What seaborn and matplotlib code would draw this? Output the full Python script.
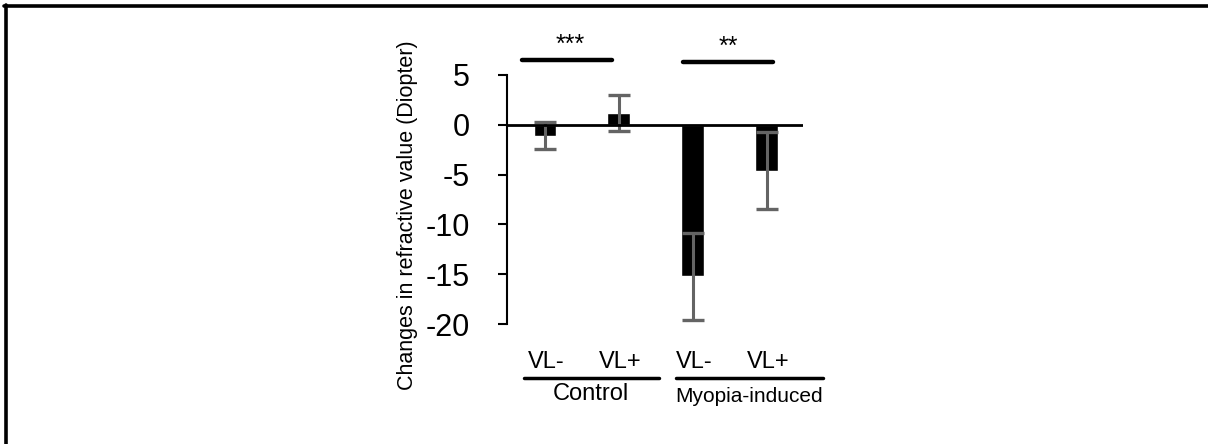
import matplotlib
matplotlib.use("Agg")
import matplotlib.pyplot as plt
import matplotlib.lines as mlines
import seaborn as sns
import pandas as pd
import numpy as np

groups = ["Control", "Control", "Myopia-induced", "Myopia-induced"]
conditions = ["VL-", "VL+", "VL-", "VL+"]
means = [-1.1, 1.2, -15.2, -4.6]
errors = [1.35, 1.8, 4.35, 3.85]
yticks = [5, 0, -5, -10, -15, -20]
sig_labels = ["***", "**"]
ylabel = "Changes in refractive value (Diopter)"

sns.set_theme(style="white")
plt.rcParams['font.family'] = ['Liberation Sans', 'DejaVu Sans']
plt.rcParams['text.color'] = 'black'
plt.rcParams['ytick.color'] = 'black'

W, H = 1208, 444
fig = plt.figure(figsize=(W / 100, H / 100), dpi=100)

# axes placement (pixels)
x0, x1 = 507, 803
ytop, ybot = 75, 324
ax = fig.add_axes([x0 / W, 1 - ybot / H, (x1 - x0) / W, (ybot - ytop) / H])

df = pd.DataFrame({"bar": [f"{g} {c}" for g, c in zip(groups, conditions)],
                   "value": means})
sns.barplot(data=df, x="bar", y="value", color="black", width=0.31,
            errorbar=None, ax=ax, saturation=1)
pos = np.arange(len(means))
ax.errorbar(pos, means, yerr=errors, fmt="none", ecolor="#646464",
            elinewidth=2.2, capsize=8.2, capthick=2.4, zorder=5)

ax.set_xlim(-0.514, 3.49)
ax.set_ylim(-20, 5)
ax.set_yticks(yticks)
ax.set_yticklabels([str(t) for t in yticks], fontsize=22, color="black")
ax.tick_params(axis="y", direction="out", length=6.5, width=1.5,
               color="black", pad=20, left=True)
ax.set_xticks([])
ax.set_xlabel("")
ax.set_ylabel("")
for s in ["top", "right", "bottom"]:
    ax.spines[s].set_visible(False)
ax.spines["left"].set_color("black")
ax.spines["left"].set_linewidth(1.5)
ax.axhline(0, color="black", lw=2, zorder=6)
ax.set_facecolor("white")

# Y label
fig.text(408 / W, 1 - 215 / H, ylabel, rotation=90, ha="center", va="center",
         fontsize=15.5)

# significance bars
sig = [(522, 612, 60, 570, 45, sig_labels[0]), (683, 773, 62, 728, 47, sig_labels[1])]
for xa, xb, yy, tx, ty, lab in sig:
    fig.add_artist(mlines.Line2D([xa / W, xb / W], [1 - yy / H] * 2,
                                 color="black", lw=3.2))
    fig.text(tx / W, 1 - ty / H, lab, ha="center", va="center", fontsize=18)

# x labels
for p, c in zip(pos, conditions):
    fig.text((546 + 74 * p) / W, 1 - 362 / H, c, ha="center", va="center",
             fontsize=17)
# group lines
for xa, xb in [(524, 659), (676, 823)]:
    fig.add_artist(mlines.Line2D([xa / W, xb / W], [1 - 378 / H] * 2,
                                 color="black", lw=2.5))
fig.text(591 / W, 1 - 394 / H, "Control", ha="center", va="center", fontsize=17)
fig.text(749 / W, 1 - 396 / H, "Myopia-induced", ha="center", va="center",
         fontsize=15)

# figure frame (left and top)
fig.add_artist(mlines.Line2D([5.5 / W, 5.5 / W], [0, 1 - 5 / H], color="black", lw=2.6))
fig.add_artist(mlines.Line2D([4 / W, 1], [1 - 6.5 / H] * 2, color="black", lw=2.6))

fig.savefig("out.png", dpi=100, facecolor="white")
